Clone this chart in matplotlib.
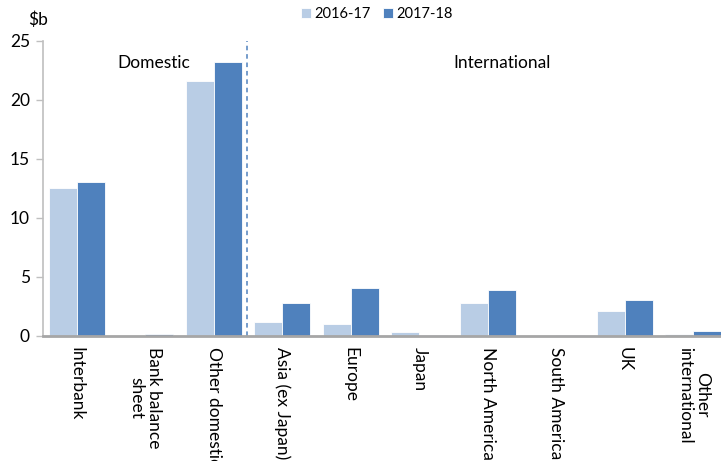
import matplotlib
matplotlib.use("Agg")
import matplotlib.pyplot as plt
import numpy as np

categories = ["Interbank", "Bank balance\nsheet", "Other domestic", "Asia (ex Japan)",
              "Europe", "Japan", "North America", "South America", "UK",
              "Other\ninternational"]
series_names = ["2016-17", "2017-18"]
values_2016_17 = [12.5, 0.1, 21.6, 1.2, 1.0, 0.3, 2.8, 0.02, 2.1, 0.15]
values_2017_18 = [13.0, 0.15, 23.2, 2.75, 4.0, 0.05, 3.9, 0.02, 3.05, 0.4]
y_ticks = [0, 5, 10, 15, 20, 25]

light = "#B9CDE5"
dark = "#4F81BD"
grey = "#BFBFBF"

plt.rcParams['font.family'] = ['Lato', 'DejaVu Sans']

W, H = 721, 461
fig = plt.figure(figsize=(W / 100, H / 100), dpi=100)
ax = fig.add_axes([42.5 / W, (H - 335.7) / H, (727.75 - 42.5) / W, (335.7 - 40.7) / H])

x = np.arange(len(categories))
bw = 0.409
ax.bar(x - bw / 2, values_2016_17, bw, color=light, edgecolor="white", linewidth=0.6,
       label=series_names[0])
ax.bar(x + bw / 2, values_2017_18, bw, color=dark, edgecolor="white", linewidth=0.6,
       label=series_names[1])

ax.set_xlim(-0.5, len(categories) - 0.5)
ax.set_ylim(0, 25)
ax.set_yticks(y_ticks)
ax.tick_params(axis="y", direction="out", length=5, color=grey, width=1,
               labelsize=12.5, pad=4)
ax.set_xticks(x)
ax.set_xticklabels(categories, rotation=270, fontsize=12.5, va="top", ha="center",
                   multialignment="center", linespacing=1.1)
ax.tick_params(axis="x", length=0, pad=8)

for s in ["top", "right"]:
    ax.spines[s].set_visible(False)
ax.spines["left"].set_color(grey)
ax.spines["left"].set_linewidth(1.2)
ax.spines["bottom"].set_color("#A6A6A6")
ax.spines["bottom"].set_linewidth(2)

# domestic / international divider
ax.axvline(2.48, ymin=0, ymax=1, color=dark, linestyle=(0, (3, 2.5)), linewidth=1.1)
ax.text(1.13, 23.1, "Domestic", ha="center", va="center", fontsize=12.5)
ax.text(6.2, 23.1, "International", ha="center", va="center", fontsize=12.5)

fig.text(28 / W, 1 - 20 / H, "$b", ha="left", va="center", fontsize=12.5)

fig.legend(loc="center", bbox_to_anchor=(377 / W, 1 - 14 / H), ncol=2, frameon=False,
           fontsize=10.5, handlelength=0.7, handleheight=0.7, handletextpad=0.25,
           columnspacing=0.8)

fig.savefig("out.png", dpi=100)
